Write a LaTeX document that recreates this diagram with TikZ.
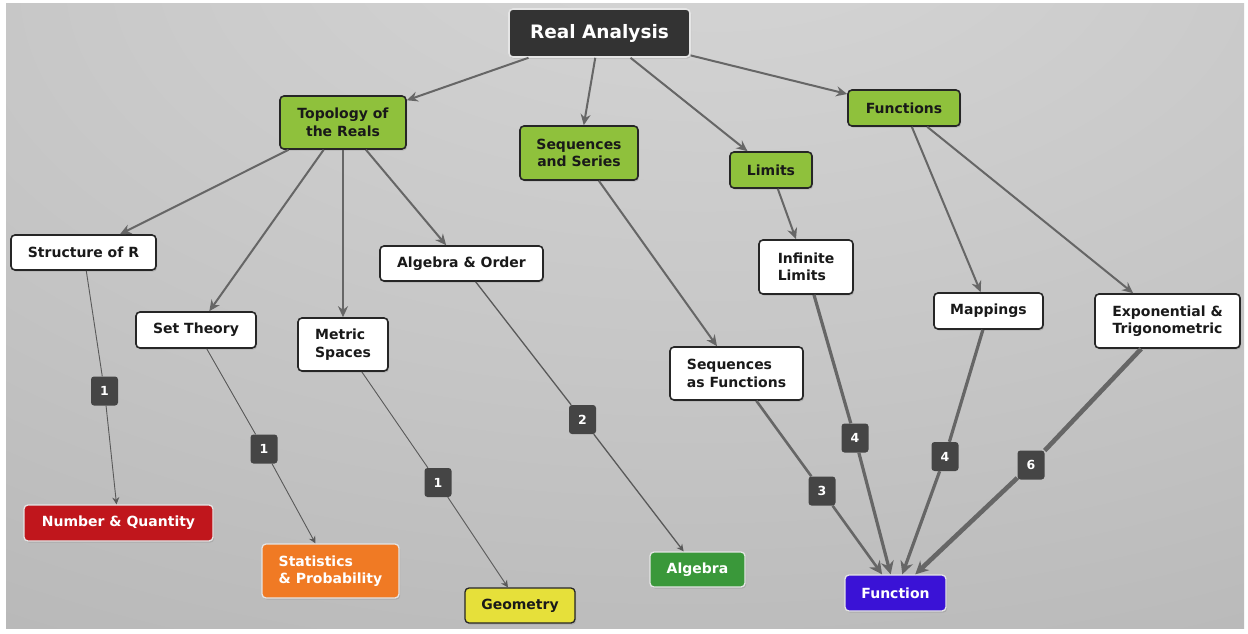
\documentclass[tikz,border=0pt]{standalone}
\usepackage{fontspec}
\setmainfont{DejaVu Sans}
\usetikzlibrary{shadows,arrows.meta}
\definecolor{bgA}{HTML}{D7D7D7}
\definecolor{bgB}{HTML}{C6C6C6}
\definecolor{bgC}{HTML}{B3B3B3}
\definecolor{bgD}{HTML}{A0A0A0}
\definecolor{raFill}{HTML}{333333}
\definecolor{topicFill}{HTML}{8FC13C}
\definecolor{edgeGray}{HTML}{666666}
\definecolor{badgeFill}{HTML}{454545}
\definecolor{nqRed}{HTML}{C0161C}
\definecolor{spOrange}{HTML}{F07A24}
\definecolor{geoYellow}{HTML}{E6E03A}
\definecolor{algGreen}{HTML}{3A983A}
\definecolor{fnBlue}{HTML}{3A12D6}
\pgfdeclareradialshading{bgshade}{\pgfpoint{4bp}{36bp}}{color(0bp)=(bgA); color(30bp)=(bgB); color(60bp)=(bgC); color(100bp)=(bgD)}
\begin{document}
\begin{tikzpicture}[x=1pt,y=-1pt,
  every node/.style={font=\fontsize{14}{17.5}\selectfont\bfseries, inner sep=0pt},
  shadowed/.style={drop shadow={opacity=0.3,shadow xshift=1.2pt,shadow yshift=-1.6pt}},
  rabox/.style={shadowed, rounded corners=4pt, line width=1.6pt, draw=black!10, fill=raFill, text=white, font=\fontsize{18.5}{20}\selectfont\bfseries},
  topicbox/.style={shadowed, rounded corners=4pt, line width=1.6pt, draw=black!85, fill=topicFill, text=black!90},
  subbox/.style={shadowed, rounded corners=4pt, line width=1.6pt, draw=black!85, fill=white, text=black!90},
  stdbox/.style={shadowed, rounded corners=4pt, line width=1.3pt, draw=white!90!black, text=white},
  badge/.style={rounded corners=3pt, fill=badgeFill, text=white, minimum width=27pt, minimum height=29pt, font=\fontsize{12.5}{13}\selectfont\bfseries},
  link/.style={draw=edgeGray, line width=2pt, -{Stealth[length=11pt,width=10pt]}},
  wa/.style={draw=black!65, line width=0.9pt},
  wb/.style={draw=black!65, line width=1.3pt},
  wc/.style={draw=black!60, line width=2.6pt},
  wd/.style={draw=black!60, line width=3.2pt},
  wf/.style={draw=black!60, line width=4.6pt},
  tipS/.style={-{Stealth[length=7pt,width=7pt]}},
  tipL/.style={-{Stealth[length=13pt,width=13pt]}}
]
\useasboundingbox (0,0) rectangle (1248,634);
\fill[white] (0,0) rectangle (1248,634);
\shade[shading=bgshade] (6,4) rectangle (1244,628);

% main nodes
\node[rabox, minimum width=181pt, minimum height=48pt] (ra) at (599.5,33) {Real Analysis};
\node[topicbox, minimum width=126pt, minimum height=53pt, align=center] (topo) at (343,122.5) {Topology of\\the Reals};
\node[topicbox, minimum width=118pt, minimum height=54pt, align=center] (seq) at (579,153) {Sequences\\and Series};
\node[topicbox, minimum width=82pt, minimum height=36pt] (lim) at (771,170) {Limits};
\node[topicbox, minimum width=112pt, minimum height=36pt] (fun) at (904,108) {Functions};

\node[subbox, minimum width=145pt, minimum height=35pt] (struct) at (83.5,252.5) {Structure of R};
\node[subbox, minimum width=120pt, minimum height=36pt] (set) at (196,330) {Set Theory};
\node[subbox, minimum width=90pt, minimum height=53pt, align=left] (metric) at (343,344.5) {Metric\\Spaces};
\node[subbox, minimum width=163pt, minimum height=35pt] (algord) at (461.5,263.5) {Algebra \& Order};
\node[subbox, minimum width=94pt, minimum height=54pt, align=left] (inflim) at (806,267) {Infinite\\Limits};
\node[subbox, minimum width=109pt, minimum height=36pt] (map) at (988.5,311) {Mappings};
\node[subbox, minimum width=145pt, minimum height=54pt, align=center] (expo) at (1167.5,321) {Exponential \&\\Trigonometric};
\node[subbox, minimum width=133pt, minimum height=53pt, align=left] (seqfun) at (736.5,373.5) {Sequences\\as Functions};

% standards
\node[stdbox, fill=nqRed, minimum width=189pt, minimum height=36pt] (nq) at (118.5,523) {Number \& Quantity};
\node[stdbox, fill=spOrange, minimum width=137pt, minimum height=54pt, align=left] (sp) at (330.5,571) {Statistics\\\& Probability};
\node[stdbox, fill=geoYellow, draw=black!85, text=black!90, minimum width=110pt, minimum height=35pt] (geo) at (520,605.5) {Geometry};
\node[stdbox, fill=algGreen, minimum width=95pt, minimum height=35pt] (alg) at (697.5,569.5) {Algebra};
\node[stdbox, fill=fnBlue, minimum width=101pt, minimum height=36pt] (fn) at (895.5,593) {Function};

% badges
\node[badge] (b1) at (104.5,391) {1};
\node[badge] (b2) at (264,449) {1};
\node[badge] (b3) at (438,482.5) {1};
\node[badge] (b4) at (582.5,419.5) {2};
\node[badge] (b5) at (822,491) {3};
\node[badge] (b6) at (855,438) {4};
\node[badge] (b7) at (945,456.5) {4};
\node[badge] (b8) at (1031,465) {6};

% hierarchy links
\draw[link] (ra) -- (topo);
\draw[link] (ra) -- (seq);
\draw[link] (ra) -- (lim);
\draw[link] (ra) -- (fun);
\draw[link] (topo) -- (struct);
\draw[link] (topo) -- (set);
\draw[link] (topo) -- (metric);
\draw[link] (topo) -- (algord);
\draw[link] (seq) -- (seqfun);
\draw[link] (lim) -- (inflim);
\draw[link] (fun) -- (map);
\draw[link] (fun) -- (expo);

% weighted links
\draw[wa] (struct) -- (b1);
\draw[wa, tipS] (b1) -- (nq);
\draw[wa] (set) -- (b2);
\draw[wa, tipS] (b2) -- (sp);
\draw[wa] (metric) -- (b3);
\draw[wa, tipS] (b3) -- (geo);
\draw[wb] (algord) -- (b4);
\draw[wb, tipS] (b4) -- (alg);
\draw[wc] (seqfun) -- (b5);
\draw[wc, tipL] (b5) -- (fn);
\draw[wd] (inflim) -- (b6);
\draw[wd, tipL] (b6) -- (fn);
\draw[wd] (map) -- (b7);
\draw[wd, tipL] (b7) -- (fn);
\draw[wf] (expo) -- (b8);
\draw[wf, tipL] (b8) -- (fn);
\end{tikzpicture}
\end{document}
